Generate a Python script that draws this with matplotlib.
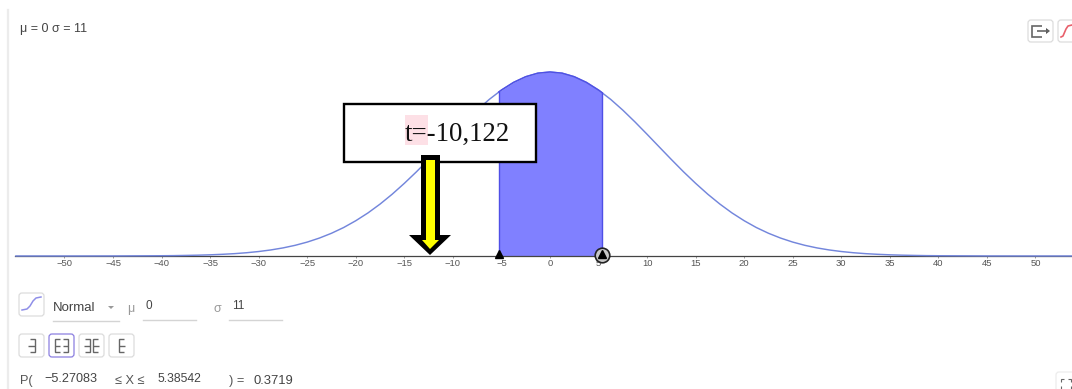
import matplotlib
matplotlib.use('Agg')
import matplotlib.pyplot as plt
from matplotlib.patches import FancyBboxPatch, Polygon, Rectangle

plt.rcParams['font.family'] = ['Liberation Sans', 'DejaVu Sans']

# curve, right half (the left half mirrors it)
half_x = [0, 1.25, 2.5, 3.75, 5, 6.25, 7.5, 8.75, 10, 11.25, 12.5, 13.75, 15, 16.25,
          17.5, 18.75, 20, 21.25, 22.5, 23.75, 25, 26.25, 27.5, 28.75, 30, 31.25,
          32.5, 33.75, 35, 36.25, 37.5, 38.75, 40, 45, 50, 55]
half_y = [.03627, .03604, .03534, .03422, .03271, .03087, .02875, .02643, .02399,
          .0215, .01902, .0166, .01432, .01218, .01023, .00848, .00695, .00561,
          .00448, .00353, .00274, .0021, .00159, .00119, .00088, .00064, .00046,
          .00033, .00023, .00016, .00011, .00007, .00005, .00001, 0, 0]
tick_values = [-50, -45, -40, -35, -30, -25, -20, -15, -10, -5, 0, 5, 10, 15, 20, 25,
               30, 35, 40, 45, 50]
lower, upper = -5.27083, 5.38542
lower_h, upper_h = .03234, .03218
title = 'μ = 0 σ = 11'
prob = '0.3719'
label = 't=-10,122'

curve_x = [-v for v in half_x[:0:-1]] + half_x
curve_y = half_y[:0:-1] + half_y
inner = [(a, b) for a, b in zip(curve_x, curve_y) if lower < a < upper]
shade_x = [lower] + [p[0] for p in inner] + [upper]
shade_y = [lower_h] + [p[1] for p in inner] + [upper_h]

fig = plt.figure(figsize=(10.72, 3.89), dpi=100)
ax = fig.add_axes([0, 0, 1, 1])
ax.set_xlim(-56.64, 53.76)
ax.set_ylim(-.02622, .05046)
for s in ['top', 'left', 'right']:
    ax.spines[s].set_visible(False)
ax.spines['bottom'].set_position(('data', 0))
ax.spines['bottom'].set_color('#444444')
ax.spines['bottom'].set_linewidth(.9)
ax.spines['bottom'].set_bounds(-55.1, 53.76)
ax.set_yticks([])
ax.set_xticks(tick_values)
ax.set_xticklabels([str(v).replace('-', '−') for v in tick_values])
ax.tick_params(axis='x', length=1.5, width=.5, color='#777777', labelsize=6.8,
               labelcolor='#555555', pad=.6)
ax.patch.set_alpha(0)

ax.plot(curve_x, curve_y, color='#7386dc', lw=1.05, zorder=3)
ax.fill_between(shade_x, shade_y, 0, color='#8080ff', lw=0, zorder=2)
ax.plot([lower, lower], [0, lower_h], color='#4f4fe6', lw=1, zorder=3)
ax.plot([upper, upper], [0, upper_h], color='#4f4fe6', lw=1, zorder=3)
ax.plot(shade_x, shade_y, color='#4f4fe6', lw=1, zorder=3)
ax.plot([lower], [.0004], marker='^', ms=5.5, color='black', ls='', zorder=4, clip_on=False)
ax.plot([upper], [.0002], marker='o', ms=10.5, mfc='#c8c8c8', mec='#222222', mew=1.2, ls='', zorder=4)
ax.plot([upper], [.0004], marker='^', ms=5.5, color='black', ls='', zorder=5)

# overlay in pixel units for the widgets, box and arrow
ui = fig.add_axes([0, 0, 1, 1], zorder=6)
ui.set_xlim(0, 1072)
ui.set_ylim(389, 0)
ui.axis('off')
ui.patch.set_alpha(0)

ui.plot([8, 8], [10, 389], color='#ececec', lw=1.6)
ui.text(20, 29, title, fontsize=9, color='#444444', va='center')

# label box with arrow
ui.add_patch(Rectangle((344, 104), 192, 58, fc='white', ec='black', lw=1.7, zorder=3))
ui.add_patch(Rectangle((405, 115), 23, 30, fc='#fde0e6', ec='none', zorder=4))
ui.text(405, 141, label, family=['Liberation Serif'], fontsize=19.3, color='#111111', zorder=5)
ui.add_patch(Polygon([(421, 155), (440, 155), (440, 235), (451, 235), (430, 255), (409, 235), (421, 235)],
                     fc='black', ec='none', zorder=6))
ui.add_patch(Polygon([(426, 160), (435, 160), (435, 240), (439, 240), (430, 249), (422, 240), (426, 240)],
                     fc='#ffff00', ec='none', zorder=7))


def button(x0, y0, x1, y1, edge='#dcdcdc'):
    ui.add_patch(FancyBboxPatch((x0 + 3, y0 + 3), x1 - x0 - 6, y1 - y0 - 6,
                                boxstyle='round,pad=3,rounding_size=3',
                                fc='white', ec=edge, lw=.9))


def strokes(points, color='#666666', lw=1):
    xs, ys = zip(*points)
    ui.plot(xs, ys, color=color, lw=lw, solid_capstyle='butt', solid_joinstyle='miter')


# top right buttons
button(1028, 20, 1053, 42)
button(1058, 20, 1084, 42)
strokes([(1042, 26), (1032, 26), (1032, 37), (1042, 37)], lw=1.2)
strokes([(1037, 31), (1049, 31)], lw=1.2)
ui.add_patch(Polygon([(1046, 28), (1050, 31), (1046, 34)], fc='#555555', ec='none'))
ui.plot([1061, 1063, 1066, 1068, 1072], [37, 36, 29, 26, 25], color='#e8606b', lw=1.2)

# distribution row
button(19, 293, 44, 316)
ui.plot([22, 27, 30, 33, 36, 41], [310, 309, 306, 301, 298, 297], color='#8f8fe8', lw=1.1)
ui.text(53, 308, 'Normal', fontsize=9.5, color='#444444', va='center')
ui.add_patch(Polygon([(108, 306), (114, 306), (111, 309)], fc='#999999', ec='none'))
ui.plot([53, 119], [321, 321], color='#d4d4d4', lw=1)
ui.text(127, 309, 'μ', fontsize=9, color='#999999', va='center')
ui.text(145, 306, '0', fontsize=8.5, color='#444444', va='center')
ui.plot([143, 196], [320, 320], color='#d4d4d4', lw=1)
ui.text(213, 309, 'σ', fontsize=9, color='#999999', va='center')
ui.text(232, 306, '11', fontsize=8.5, color='#444444', va='center')
ui.plot([229, 282], [320, 320], color='#d4d4d4', lw=1)

# interval buttons
button(19, 334, 44, 357)
button(49, 334, 74, 357, edge='#8b7fe0')
button(79, 334, 104, 357)
button(109, 334, 134, 357)
strokes([(30, 339), (35, 339), (35, 352), (30, 352)])
strokes([(28, 345.5), (35, 345.5)])
strokes([(60, 339), (55, 339), (55, 352), (60, 352)])
strokes([(55, 345.5), (60, 345.5)])
strokes([(63, 339), (68, 339), (68, 352), (63, 352)])
strokes([(63, 345.5), (68, 345.5)])
strokes([(85, 339), (90, 339), (90, 352), (85, 352)])
strokes([(84, 345.5), (90, 345.5)])
strokes([(98, 339), (93, 339), (93, 352), (98, 352)])
strokes([(93, 345.5), (99, 345.5)])
strokes([(124, 339), (119, 339), (119, 352), (124, 352)])
strokes([(119, 345.5), (125, 345.5)])

# probability row
ui.text(20, 381, 'P(', fontsize=9.2, color='#555555', va='center')
ui.text(44, 379, f'{lower:.5f}'.replace('-', '−'), fontsize=9.1, color='#444444', va='center')
ui.text(115, 381, '≤ X ≤', fontsize=9.2, color='#555555', va='center')
ui.text(157, 379, f'{upper:.5f}', fontsize=8.8, color='#444444', va='center')
ui.text(229, 381, ') =', fontsize=9.2, color='#555555', va='center')
ui.text(253, 381, prob, fontsize=9.4, color='#444444', va='center')

# fullscreen button corner
button(1056, 372, 1084, 400, edge='#ececec')
strokes([(1061, 382), (1061, 379), (1064, 379)], lw=.8)
strokes([(1068, 379), (1071, 379), (1071, 382)], lw=.8)
strokes([(1061, 386), (1061, 389)], lw=.8)
strokes([(1071, 386), (1071, 389)], lw=.8)

fig.savefig('out.png', dpi=100)
